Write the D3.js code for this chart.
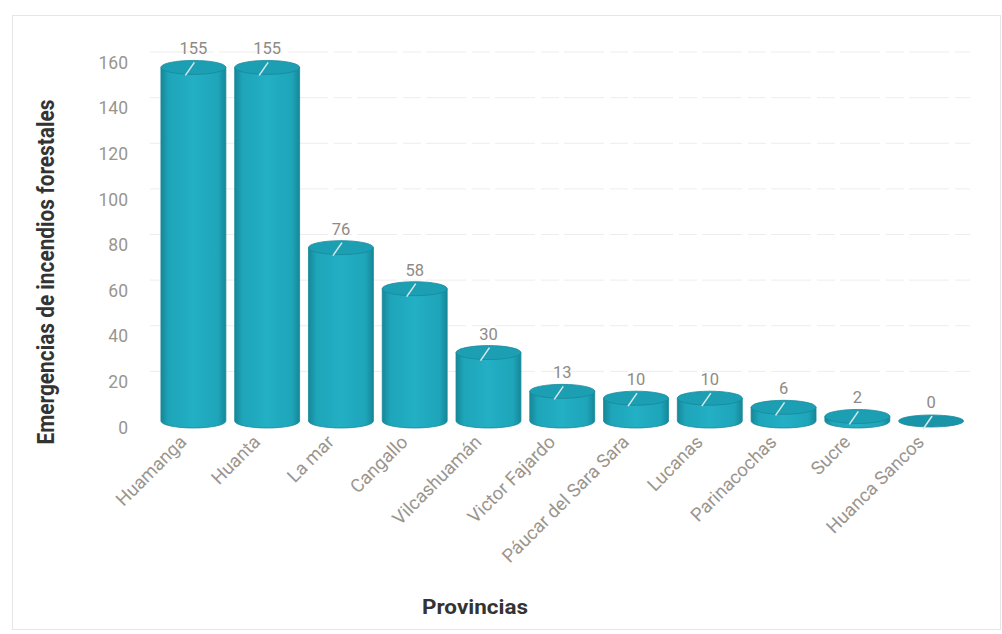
<!DOCTYPE html>
<html>
<head>
<meta charset="utf-8">
<script src="https://cdn.jsdelivr.net/npm/d3@7"></script>
<style>
  html, body { margin: 0; padding: 0; background: #fff; }
  svg { display: block; }
</style>
</head>
<body>
<svg id="chart" width="1002" height="634"></svg>
<script>
const provincias = ["Huamanga", "Huanta", "La mar", "Cangallo", "Vilcashuamán", "Victor Fajardo",
  "Páucar del Sara Sara", "Lucanas", "Parinacochas", "Sucre", "Huanca Sancos"];
const emergencias = [155, 155, 76, 58, 30, 13, 10, 10, 6, 2, 0];
const yTicks = [0, 20, 40, 60, 80, 100, 120, 140, 160];
const yTitle = "Emergencias de incendios forestales";
const xTitle = "Provincias";

const svg = d3.select("#chart");

// frame
svg.append("rect").attr("x", 12.5).attr("y", 15.5).attr("width", 988).attr("height", 614)
  .attr("fill", "none").attr("stroke", "#e6e6e6");

const x = d3.scaleBand().domain(provincias).range([156.5, 968]).paddingInner(0.12).paddingOuter(0.06);
const y = d3.scaleLinear().domain([0, 160]).range([427, 62]);

const depth = 6;   // 3D offset
const ry = 7;

// gradient
const defs = svg.append("defs");
const g1 = defs.append("linearGradient").attr("id", "body").attr("x1", "0").attr("x2", "1").attr("y1", "0").attr("y2", "0");
g1.append("stop").attr("offset", "0").attr("stop-color", "#168797");
g1.append("stop").attr("offset", "0.12").attr("stop-color", "#1ea5ba");
g1.append("stop").attr("offset", "0.5").attr("stop-color", "#23afc4");
g1.append("stop").attr("offset", "0.88").attr("stop-color", "#1ea5ba");
g1.append("stop").attr("offset", "1").attr("stop-color", "#168797");

// gridlines
svg.append("g").selectAll("line").data(yTicks.filter(d => d > 0)).join("line")
  .attr("x1", 150).attr("x2", 970)
  .attr("y1", d => y(d) - 10).attr("y2", d => y(d) - 10)
  .attr("stroke", "#ededed").attr("stroke-width", 1).attr("stroke-dasharray", "40 6 18 5");

// y axis
const yAxis = d3.axisLeft(y).tickValues(yTicks).tickSize(0).tickPadding(0);
const ya = svg.append("g").attr("transform", "translate(128,0)").call(yAxis);
ya.select(".domain").remove();
ya.selectAll("text").attr("font-family", "Roboto, sans-serif").attr("font-size", 17.5)
  .attr("fill", "#9a958e").attr("dy", "0.35em");

// x axis labels
const xAxis = d3.axisBottom(x).tickSize(0).tickPadding(0);
const xa = svg.append("g").call(xAxis);
xa.select(".domain").remove();
xa.selectAll(".tick").attr("transform", d => `translate(${x(d) + x.bandwidth() / 2 - 15},434)`);
xa.selectAll("text").attr("font-family", "Roboto, sans-serif").attr("font-size", 18.5)
  .attr("fill", "#9a958e").attr("text-anchor", "end")
  .attr("transform", "rotate(-45)").attr("dy", "0.7em").attr("y", 0).attr("x", 0);

// cylinders
const bars = svg.append("g").selectAll("g").data(provincias.map((p, i) => ({ p, v: emergencias[i] }))).join("g");
bars.each(function (d) {
  const g = d3.select(this);
  const rx = x.bandwidth() / 2;
  const cx = x(d.p) + rx;
  const top = y(d.v) - depth;
  const bot = y(0) - depth;
  if (d.v > 0) {
    g.append("path")
      .attr("d", `M${cx - rx},${top} L${cx - rx},${bot} A${rx},${ry} 0 0 0 ${cx + rx},${bot} L${cx + rx},${top} Z`)
      .attr("fill", "url(#body)").attr("stroke", "#17899a").attr("stroke-width", 0.8);
  }
  g.append("ellipse").attr("cx", cx).attr("cy", top).attr("rx", rx).attr("ry", d.v > 0 ? ry : 6)
    .attr("fill", d.v > 0 ? "#1c9fb3" : "#1a94a8").attr("stroke", "#17899a").attr("stroke-width", 0.8);
  // leader line
  g.append("line").attr("x1", cx + 1).attr("y1", top - 5).attr("x2", cx - 8).attr("y2", top + 8)
    .attr("stroke", "#d9e9eb").attr("stroke-width", 1.5);
  // value label
  g.append("text").attr("x", cx).attr("y", top - ry - 6).attr("text-anchor", "middle")
    .attr("font-family", "Roboto, sans-serif").attr("font-size", 16.5).attr("fill", "#8f8a84")
    .text(d.v);
});

// titles
svg.append("text").attr("transform", `translate(54,272) rotate(-90)`).attr("text-anchor", "middle")
  .attr("font-family", "Roboto, sans-serif").attr("font-weight", "bold").attr("font-size", 23)
  .attr("fill", "#333").attr("textLength", 345).attr("lengthAdjust", "spacingAndGlyphs").text(yTitle);
svg.append("text").attr("x", 475).attr("y", 614).attr("text-anchor", "middle")
  .attr("font-family", "Roboto, sans-serif").attr("font-weight", "bold").attr("font-size", 21)
  .attr("fill", "#333").attr("textLength", 106).attr("lengthAdjust", "spacingAndGlyphs").text(xTitle);
</script>
</body>
</html>
